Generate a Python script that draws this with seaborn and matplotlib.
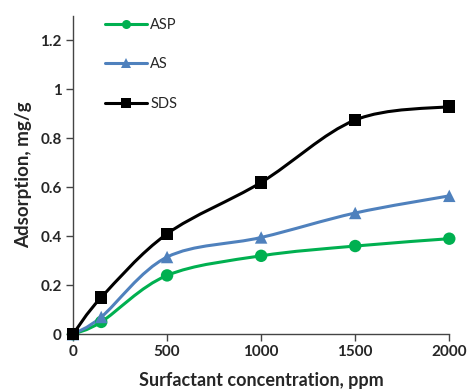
import numpy as np
import pandas as pd
import matplotlib
matplotlib.use("Agg")
import matplotlib.pyplot as plt
from matplotlib.path import Path
from matplotlib.patches import PathPatch
from matplotlib.lines import Line2D
import seaborn as sns

concentration = [0, 150, 500, 1000, 1500, 2000]
asp = [0.0, 0.05, 0.24, 0.32, 0.36, 0.39]
as_ = [0.0, 0.07, 0.315, 0.395, 0.495, 0.565]
sds = [0.0, 0.15, 0.41, 0.62, 0.875, 0.93]
series_names = ["ASP", "AS", "SDS"]
x_ticks = [0, 500, 1000, 1500, 2000]
y_ticks = [0, 0.2, 0.4, 0.6, 0.8, 1.0, 1.2]
y_tick_labels = ["0", "0.2", "0.4", "0.6", "0.8", "1", "1.2"]

colors = {"ASP": "#00B050", "AS": "#4F81BD", "SDS": "#000000"}
markers = {"ASP": "o", "AS": "^", "SDS": "s"}

df = pd.DataFrame({
    "x": concentration * 3,
    "y": asp + as_ + sds,
    "series": sum([[n] * len(concentration) for n in series_names], []),
})

sns.set_theme(style="white")
plt.rcParams["font.family"] = ["Lato", "DejaVu Sans"]

fig = plt.figure(figsize=(4.68, 3.89), dpi=100)
ax = fig.add_axes([0.156, 0.141, 0.804, 0.818])


def smooth_path(xs, ys, ax, t=1/6):
    # Excel-like smoothed line: Bezier through points (Catmull-Rom tangents)
    pts = ax.transData.transform(np.column_stack([xs, ys]))
    verts = [tuple(pts[0])]
    codes = [Path.MOVETO]
    n = len(pts)
    for i in range(n - 1):
        p0 = pts[i - 1] if i > 0 else pts[i]
        p1 = pts[i]
        p2 = pts[i + 1]
        p3 = pts[i + 2] if i + 2 < n else pts[i + 1]
        c1 = p1 + (p2 - p0) * t
        c2 = p2 - (p3 - p1) * t
        verts += [tuple(c1), tuple(c2), tuple(p2)]
        codes += [Path.CURVE4] * 3
    inv = ax.transData.inverted()
    verts = inv.transform(np.array(verts))
    return Path(verts, codes)


ax.set_xlim(0, 2000)
ax.set_ylim(0, 1.3)

for name in series_names:
    sub = df[df["series"] == name]
    path = smooth_path(sub["x"].values, sub["y"].values, ax)
    ax.add_patch(PathPatch(path, facecolor="none", edgecolor=colors[name],
                           lw=2.2, clip_on=False, zorder=2))

sns.scatterplot(data=df, x="x", y="y", hue="series", style="series",
                palette=colors, markers=markers, s=80, edgecolor="none",
                ax=ax, legend=False, zorder=3, clip_on=False)

ax.set_xticks(x_ticks)
ax.set_xticklabels([str(v) for v in x_ticks], fontweight="bold", fontsize=11)
ax.set_yticks(y_ticks)
ax.set_yticklabels(y_tick_labels, fontweight="bold", fontsize=11)
ax.set_xlim(0, 2000)
ax.set_ylim(0, 1.3)
ax.set_xlabel("Surfactant concentration, ppm", fontweight="bold", fontsize=13, labelpad=9)
ax.set_ylabel("Adsorption, mg/g", fontweight="bold", fontsize=13.5, labelpad=6)

for s in ["top", "right"]:
    ax.spines[s].set_visible(False)
for s in ["left", "bottom"]:
    ax.spines[s].set_color("#444444")
    ax.spines[s].set_linewidth(1.0)
ax.tick_params(axis="both", which="major", direction="out", length=5,
               width=1, color="#444444", bottom=True, left=True, pad=3)

handles = [Line2D([0], [0], color=colors[n], lw=2.2, marker=markers[n],
                  markersize=6.5, markeredgewidth=0) for n in series_names]
ax.legend(handles, series_names, loc="upper left", bbox_to_anchor=(0.05, 1.035),
          frameon=False, fontsize=10.5, handlelength=2.9, handletextpad=0.2,
          labelspacing=1.75)

fig.savefig("out.png", dpi=100)
